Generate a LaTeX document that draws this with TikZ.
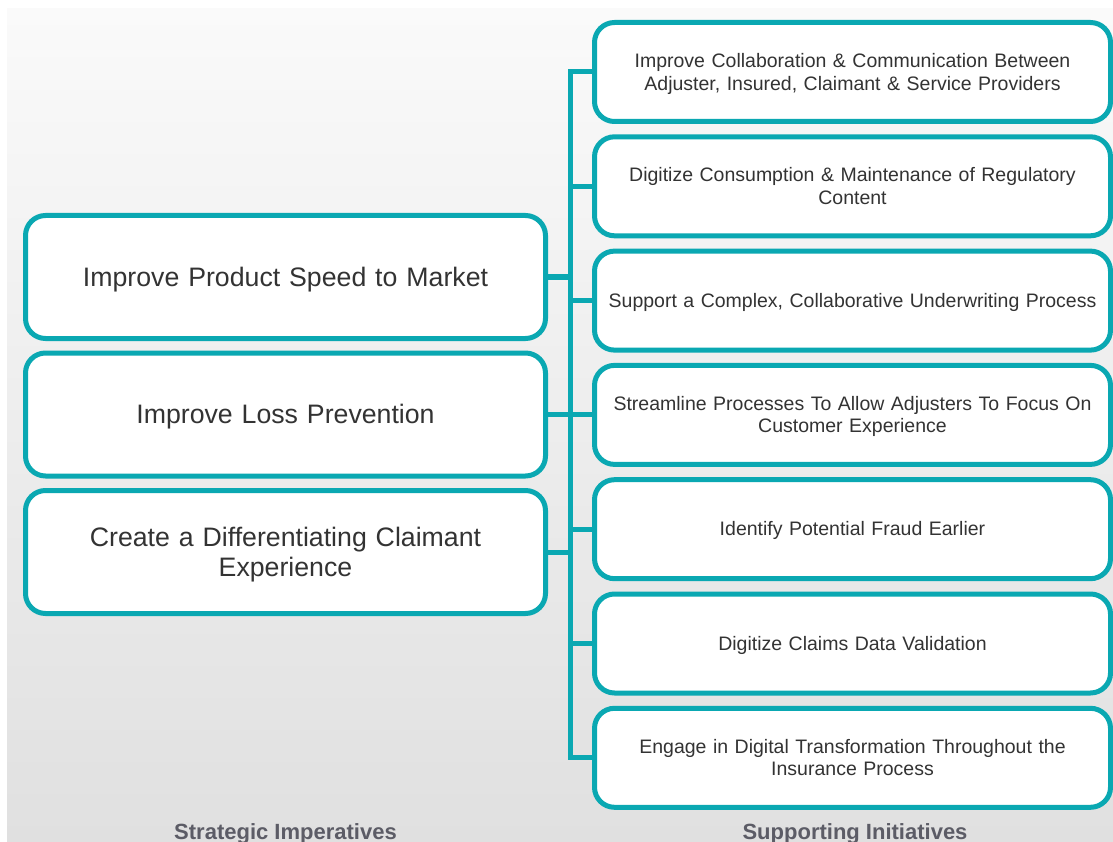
\documentclass[tikz,border=0pt]{standalone}
\usepackage{fontspec}
\setmainfont{Liberation Sans}
\definecolor{teal}{RGB}{10,168,178}
\definecolor{txt}{RGB}{51,51,51}
\definecolor{lbl}{RGB}{92,92,102}
\definecolor{bgtop}{RGB}{250,250,250}
\definecolor{bgbot}{RGB}{224,224,224}
\begin{document}
\begin{tikzpicture}[x=1pt,y=-1pt,
  webstrut/.style={execute at begin node={\rule{0pt}{0.905em}},
    execute at end node={\rule[-0.212em]{0pt}{0pt}}},
  leftbox/.style={draw=teal, line width=5pt, fill=white, rounded corners=20pt,
    minimum width=520pt, minimum height=123pt, inner sep=0pt, align=center,
    text=txt, font=\fontsize{26.7}{30}\selectfont, text width=480pt, webstrut},
  rightbox/.style={draw=teal, line width=5pt, fill=white, rounded corners=20pt,
    minimum width=516pt, minimum height=99pt, inner sep=0pt, align=center,
    text=txt, font=\fontsize{19.5}{22.5}\selectfont, text width=500pt, webstrut},
  conn/.style={draw=teal, line width=5pt},
  caption/.style={text=lbl, font=\bfseries\fontsize{22}{24}\selectfont, anchor=base}]
\useasboundingbox (0,0) rectangle (1113,842);
\shade[top color=bgtop, bottom color=bgbot] (7,9) rectangle (1113,842);

\coordinate (bus) at (570,0);

\node[leftbox] (L1) at (285.5,277) {Improve Product Speed to Market};
\node[leftbox] (L2) at (285.5,414.5) {Improve Loss Prevention};
\node[leftbox] (L3) at (285.5,552) {Create a Differentiating Claimant\\Experience};

\node[rightbox] (R1) at (852.5,72) {Improve Collaboration \& Communication Between\\Adjuster, Insured, Claimant \& Service Providers};
\node[rightbox] (R2) at (852.5,186.3) {Digitize Consumption \& Maintenance of Regulatory\\Content};
\node[rightbox] (R3) at (852.5,300.6) {Support a Complex, Collaborative Underwriting Process};
\node[rightbox] (R4) at (852.5,414.9) {Streamline Processes To Allow Adjusters To Focus On\\Customer Experience};
\node[rightbox] (R5) at (852.5,529.2) {Identify Potential Fraud Earlier};
\node[rightbox] (R6) at (852.5,643.5) {Digitize Claims Data Validation};
\node[rightbox] (R7) at (852.5,757.8) {Engage in Digital Transformation Throughout the\\Insurance Process};

\draw[conn] (R1.west) -- (R1.west -| bus) -- (R7.west -| bus) -- (R7.west);
\foreach \r in {R2,R3,R4,R5,R6} {\draw[conn] (\r.west -| bus) -- (\r.west);}
\foreach \l in {L1,L2,L3} {\draw[conn] (\l.east) -- (\l.east -| bus);}

\node[caption] (C1) at (285.5,839) {Strategic Imperatives};
\node[caption] (C2) at (855,839) {Supporting Initiatives};
\end{tikzpicture}
\end{document}
